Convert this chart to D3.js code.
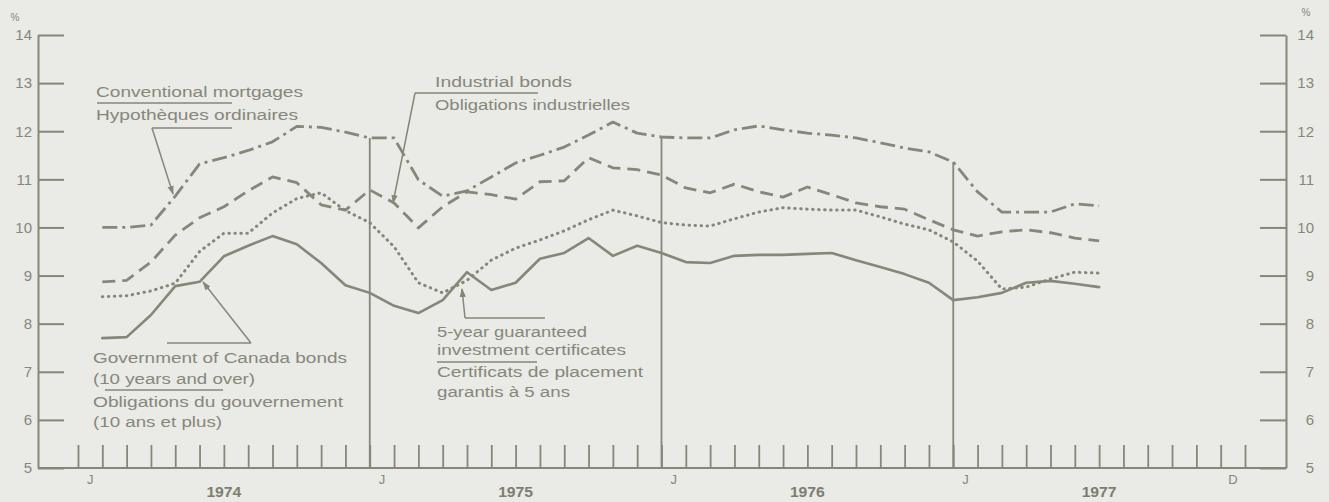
<!DOCTYPE html>
<html>
<head>
<meta charset="utf-8">
<script src="https://cdn.jsdelivr.net/npm/d3@7"></script>
<style>
  html, body { margin: 0; padding: 0; background: #eaeae6; }
  svg { display: block; font-family: "Liberation Sans", Arial, Helvetica, sans-serif; }
</style>
</head>
<body>
<svg id="chart" width="1329" height="502"></svg>
<script>
// ---------------- DATA ----------------
const months = [
  "1974-01","1974-02","1974-03","1974-04","1974-05","1974-06","1974-07","1974-08","1974-09","1974-10","1974-11","1974-12",
  "1975-01","1975-02","1975-03","1975-04","1975-05","1975-06","1975-07","1975-08","1975-09","1975-10","1975-11","1975-12",
  "1976-01","1976-02","1976-03","1976-04","1976-05","1976-06","1976-07","1976-08","1976-09","1976-10","1976-11","1976-12",
  "1977-01","1977-02","1977-03","1977-04","1977-05","1977-06"
];
const conventionalMortgages = [
  10.0, 10.0, 10.05, 10.65, 11.32, 11.45, 11.6, 11.78, 12.1, 12.08, 11.98, 11.86,
  11.86, 10.99, 10.65, 10.76, 11.05, 11.34, 11.5, 11.67, 11.92, 12.19, 11.96, 11.88,
  11.86, 11.86, 12.03, 12.11, 12.03, 11.96, 11.92, 11.86, 11.76, 11.65, 11.57, 11.36,
  10.74, 10.32, 10.32, 10.32, 10.49, 10.45
];
const industrialBonds = [
  8.87, 8.9, 9.28, 9.84, 10.2, 10.43, 10.76, 11.05, 10.93, 10.47, 10.36, 10.78,
  10.51, 9.99, 10.43, 10.74, 10.68, 10.59, 10.95, 10.97, 11.45, 11.24, 11.2, 11.09,
  10.82, 10.72, 10.9, 10.74, 10.63, 10.84, 10.68, 10.51, 10.43, 10.38, 10.16, 9.95,
  9.82, 9.91, 9.95, 9.89, 9.78, 9.72
];
const guaranteedCertificates = [
  8.56, 8.58, 8.68, 8.84, 9.5, 9.88, 9.88, 10.3, 10.6, 10.72, 10.35, 10.1,
  9.6, 8.85, 8.64, 8.9, 9.32, 9.57, 9.74, 9.93, 10.16, 10.36, 10.24, 10.1,
  10.05, 10.03, 10.18, 10.32, 10.41, 10.38, 10.36, 10.36, 10.22, 10.07, 9.95, 9.7,
  9.3, 8.72, 8.76, 8.93, 9.07, 9.05
];
const governmentBonds = [
  7.7, 7.72, 8.18, 8.78, 8.87, 9.4, 9.62, 9.82, 9.65, 9.26, 8.8, 8.64,
  8.37, 8.22, 8.49, 9.07, 8.7, 8.85, 9.35, 9.47, 9.78, 9.41, 9.62, 9.47,
  9.28, 9.26, 9.41, 9.43, 9.43, 9.45, 9.47, 9.32, 9.18, 9.03, 8.85, 8.49,
  8.55, 8.64, 8.85, 8.89, 8.83, 8.76
];
const yTicks = [5, 6, 7, 8, 9, 10, 11, 12, 13, 14];
const monthInitialLabels = [
  { pos: 0.5, text: "J" }, { pos: 12.5, text: "J" }, { pos: 24.5, text: "J" },
  { pos: 36.5, text: "J" }, { pos: 47.5, text: "D" }
];
const yearLabels = [
  { pos: 6, text: "1974" }, { pos: 18, text: "1975" },
  { pos: 30, text: "1976" }, { pos: 42, text: "1977" }
];
const yearStarts = [12, 24, 36];

// ---------------- LAYOUT ----------------
const INK = "#868779";
const TEXT = "#86877b";
const svg = d3.select("#chart");
svg.append("rect").attr("width", 1329).attr("height", 502).attr("fill", "#eaeae6");

const leftX = 38, rightX = 1286;
const x = d3.scaleLinear().domain([0, 48]).range([78, 1245]);
const y = d3.scaleLinear().domain([5, 14]).range([468, 35]);
const xi = i => x(i + 1); // each month's value plotted at the end of its month

// left axis
const gl = svg.append("g").attr("transform", `translate(${leftX},0)`)
  .call(d3.axisLeft(y).tickValues(yTicks).tickSize(-26).tickSizeOuter(0).tickPadding(6).tickFormat(d3.format("d")));
// right axis
const gr = svg.append("g").attr("transform", `translate(${rightX},0)`)
  .call(d3.axisRight(y).tickValues(yTicks).tickSize(-26).tickSizeOuter(0).tickPadding(28).tickFormat(d3.format("d")));
gr.selectAll(".tick text").attr("text-anchor", "end");
[gl, gr].forEach(g => {
  g.select(".domain").attr("stroke", INK).attr("stroke-width", 2);
  g.selectAll(".tick line").attr("stroke", INK).attr("stroke-width", 2);
  g.selectAll(".tick text").attr("fill", TEXT).attr("font-size", 15).attr("font-family", "Liberation Sans, Arial, sans-serif");
});

// bottom axis
const gb = svg.append("g").attr("transform", `translate(0,${y(5)})`)
  .call(d3.axisBottom(x).tickValues(d3.range(0, 49)).tickSize(-23).tickSizeOuter(0).tickFormat(""));
gb.select(".domain").remove();
gb.selectAll(".tick line").attr("stroke", INK).attr("stroke-width", 1.8);
svg.append("line").attr("x1", leftX).attr("x2", rightX).attr("y1", y(5)).attr("y2", y(5))
  .attr("stroke", INK).attr("stroke-width", 2);

// tall year-start lines, reaching up to the mortgage line
svg.selectAll(".yearline").data(yearStarts).join("line").attr("class", "yearline")
  .attr("x1", d => x(d)).attr("x2", d => x(d))
  .attr("y1", y(5)).attr("y2", d => y(conventionalMortgages[d - 1]))
  .attr("stroke", INK).attr("stroke-width", 1.8);

// x labels
svg.selectAll(".mlab").data(monthInitialLabels).join("text").attr("class", "mlab")
  .attr("x", d => x(d.pos)).attr("y", 484).attr("text-anchor", "middle")
  .attr("font-size", 13).attr("fill", TEXT).text(d => d.text);
svg.selectAll(".ylab").data(yearLabels).join("text").attr("class", "ylab")
  .attr("x", d => x(d.pos)).attr("y", 497).attr("text-anchor", "middle")
  .attr("font-size", 14).attr("font-weight", "bold").attr("fill", "#7d7e72")
  .attr("textLength", 35).attr("lengthAdjust", "spacingAndGlyphs").text(d => d.text);

// % units
svg.append("text").attr("x", 15).attr("y", 21).attr("text-anchor", "middle").attr("font-size", 10).attr("fill", TEXT).text("%");
svg.append("text").attr("x", 1306).attr("y", 16).attr("text-anchor", "middle").attr("font-size", 10).attr("fill", TEXT).text("%");

// ---------------- SERIES ----------------
const line = d3.line().x((d, i) => xi(i)).y(d => y(d));
const series = [
  { values: conventionalMortgages, dash: "15,5,3,5", width: 2.8, cap: "butt" },
  { values: industrialBonds, dash: "13,7", width: 2.8, cap: "butt" },
  { values: guaranteedCertificates, dash: "0.5,5.5", width: 3, cap: "round" },
  { values: governmentBonds, dash: null, width: 2.6, cap: "round" }
];
svg.selectAll(".series").data(series).join("path").attr("class", "series")
  .attr("d", d => line(d.values))
  .attr("fill", "none").attr("stroke", INK)
  .attr("stroke-width", d => d.width)
  .attr("stroke-dasharray", d => d.dash)
  .attr("stroke-linecap", d => d.cap)
  .attr("stroke-linejoin", "round");

// ---------------- ANNOTATIONS ----------------
const defs = svg.append("defs");
defs.append("marker").attr("id", "arrow").attr("viewBox", "0 0 10 10")
  .attr("refX", 9).attr("refY", 5).attr("markerWidth", 9).attr("markerHeight", 9)
  .attr("markerUnits", "userSpaceOnUse").attr("orient", "auto")
  .append("path").attr("d", "M0,1.5 L10,5 L0,8.5 Z").attr("fill", INK);

function txt(xp, yp, s, len) {
  return svg.append("text").attr("x", xp).attr("y", yp).attr("font-size", 14).attr("fill", TEXT)
    .attr("textLength", len).attr("lengthAdjust", "spacingAndGlyphs").text(s);
}
function seg(x1, y1, x2, y2, arrow) {
  const l = svg.append("line").attr("x1", x1).attr("y1", y1).attr("x2", x2).attr("y2", y2)
    .attr("stroke", INK).attr("stroke-width", 1.5);
  if (arrow) l.attr("marker-end", "url(#arrow)");
}

// Conventional mortgages
txt(96, 97, "Conventional mortgages", 207);
seg(97, 103, 232, 103);
txt(96, 120, "Hypothèques ordinaires", 202);
seg(152, 128, 232, 128);
seg(152, 128, 173, 194, true);

// Industrial bonds
txt(435, 87, "Industrial bonds", 137);
seg(415, 93, 538, 93);
seg(415, 93, 393, 203, true);
txt(435, 110, "Obligations industrielles", 195);

// Government of Canada bonds
seg(167, 343, 251, 343);
seg(251, 343, 203, 282, true);
txt(93, 363, "Government of Canada bonds", 254);
txt(93, 384, "(10 years and over)", 162);
seg(105, 390, 223, 390);
txt(93, 407, "Obligations du gouvernement", 250);
txt(93, 427, "(10 ans et plus)", 129);

// 5-year GIC
seg(465, 318, 545, 318);
seg(465, 318, 462, 289, true);
txt(437, 337, "5-year guaranteed", 150);
txt(437, 355, "investment certificates", 189);
seg(437, 362, 537, 362);
txt(437, 377, "Certificats de placement", 206);
txt(437, 397, "garantis à 5 ans", 133);
</script>
</body>
</html>
